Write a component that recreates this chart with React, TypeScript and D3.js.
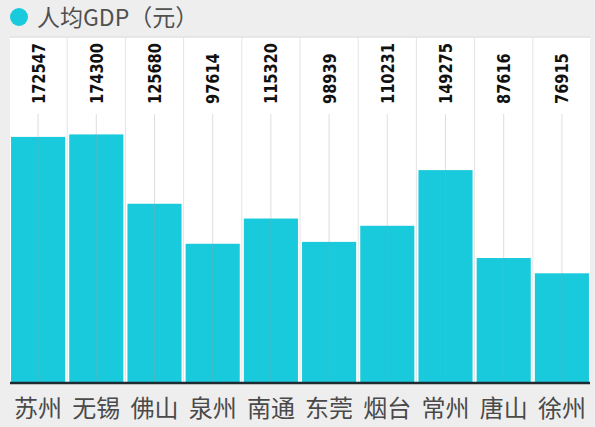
import { useRef, useEffect } from 'react';
import * as d3 from 'd3';

const cities = ['苏州', '无锡', '佛山', '泉州', '南通', '东莞', '烟台', '常州', '唐山', '徐州'];
const gdpPerCapita = [172547, 174300, 125680, 97614, 115320, 98939, 110231, 149275, 87616, 76915];
const legendLabel = '人均GDP（元）';

export default function App() {
  const svgRef = useRef<SVGSVGElement>(null);

  useEffect(() => {
    if (!svgRef.current) return;

    const svg = d3.select(svgRef.current);
    svg.selectAll('*').remove();

    const width = 595;
    const height = 427;
    const panel = { left: 10, right: 590, top: 37, bottom: 383 };
    const barColor = '#18cadb';
    const textColor = '#4a4a4a';

    svg.attr('width', width).attr('height', height);

    const x = d3
      .scaleBand()
      .domain(cities)
      .range([9, 591])
      .paddingInner(0.07)
      .paddingOuter(0.035);

    const y = d3.scaleLinear().domain([0, 242600]).range([panel.bottom, panel.top]);

    // background
    svg.append('rect').attr('width', width).attr('height', height).attr('fill', '#efeeee');
    svg
      .append('rect')
      .attr('x', panel.left)
      .attr('y', panel.top)
      .attr('width', panel.right - panel.left)
      .attr('height', panel.bottom - panel.top)
      .attr('fill', '#ffffff');
    svg
      .append('line')
      .attr('x1', panel.left)
      .attr('x2', panel.right)
      .attr('y1', panel.top)
      .attr('y2', panel.top)
      .attr('stroke', '#e2e2e2')
      .attr('stroke-width', 1.5);

    // column separators
    const step = x.step();
    const g = svg.append('g');
    g.selectAll('.sep')
      .data(cities.slice(1))
      .enter()
      .append('line')
      .attr('x1', (d) => x(d)! - (step - x.bandwidth()) / 2)
      .attr('x2', (d) => x(d)! - (step - x.bandwidth()) / 2)
      .attr('y1', panel.top)
      .attr('y2', panel.bottom)
      .attr('stroke', '#e4e4e4')
      .attr('stroke-width', 1);

    // bars
    g.selectAll('rect.bar')
      .data(gdpPerCapita)
      .enter()
      .append('rect')
      .attr('class', 'bar')
      .attr('x', (_, i) => x(cities[i])!)
      .attr('y', (d) => y(d))
      .attr('width', x.bandwidth())
      .attr('height', (d) => panel.bottom - y(d))
      .attr('fill', barColor);

    // center guide lines
    g.selectAll('.guide')
      .data(cities)
      .enter()
      .append('line')
      .attr('x1', (d) => x(d)! + x.bandwidth() / 2)
      .attr('x2', (d) => x(d)! + x.bandwidth() / 2)
      .attr('y1', 114)
      .attr('y2', panel.bottom)
      .attr('stroke', '#9aa4a6')
      .attr('stroke-opacity', 0.35)
      .attr('stroke-width', 1);

    // value labels, rotated and squeezed to look condensed
    g.selectAll('.value')
      .data(gdpPerCapita)
      .enter()
      .append('text')
      .attr(
        'transform',
        (_, i) => `translate(${x(cities[i])! + x.bandwidth() / 2 + 6.5},104) rotate(-90) scale(0.9,1)`
      )
      .attr('text-anchor', 'start')
      .attr('fill', '#111')
      .attr('font-family', '"DejaVu Sans Condensed", "DejaVu Sans", sans-serif')
      .attr('font-weight', 'bold')
      .attr('font-stretch', 'condensed')
      .attr('font-size', '18px')
      .text((d) => String(d));

    // baseline
    svg
      .append('line')
      .attr('x1', panel.left)
      .attr('x2', panel.right)
      .attr('y1', panel.bottom)
      .attr('y2', panel.bottom)
      .attr('stroke', '#1d2b30')
      .attr('stroke-width', 2.5);

    // category labels
    svg
      .append('g')
      .selectAll('text')
      .data(cities)
      .enter()
      .append('text')
      .attr('x', (d) => x(d)! + x.bandwidth() / 2)
      .attr('y', 417)
      .attr('text-anchor', 'middle')
      .attr('fill', textColor)
      .attr('font-family', '"Noto Sans CJK SC", sans-serif')
      .attr('font-size', '24px')
      .text((d) => d);

    // legend
    svg.append('circle').attr('cx', 19).attr('cy', 17).attr('r', 9).attr('fill', barColor);
    svg
      .append('text')
      .attr('x', 37)
      .attr('y', 26)
      .attr('fill', '#505050')
      .attr('font-family', '"Noto Sans CJK SC", sans-serif')
      .attr('font-size', '23px')
      .text(legendLabel);
  }, []);

  return <svg ref={svgRef} style={{ position: 'absolute', left: 0, top: 0 }} />;
}
